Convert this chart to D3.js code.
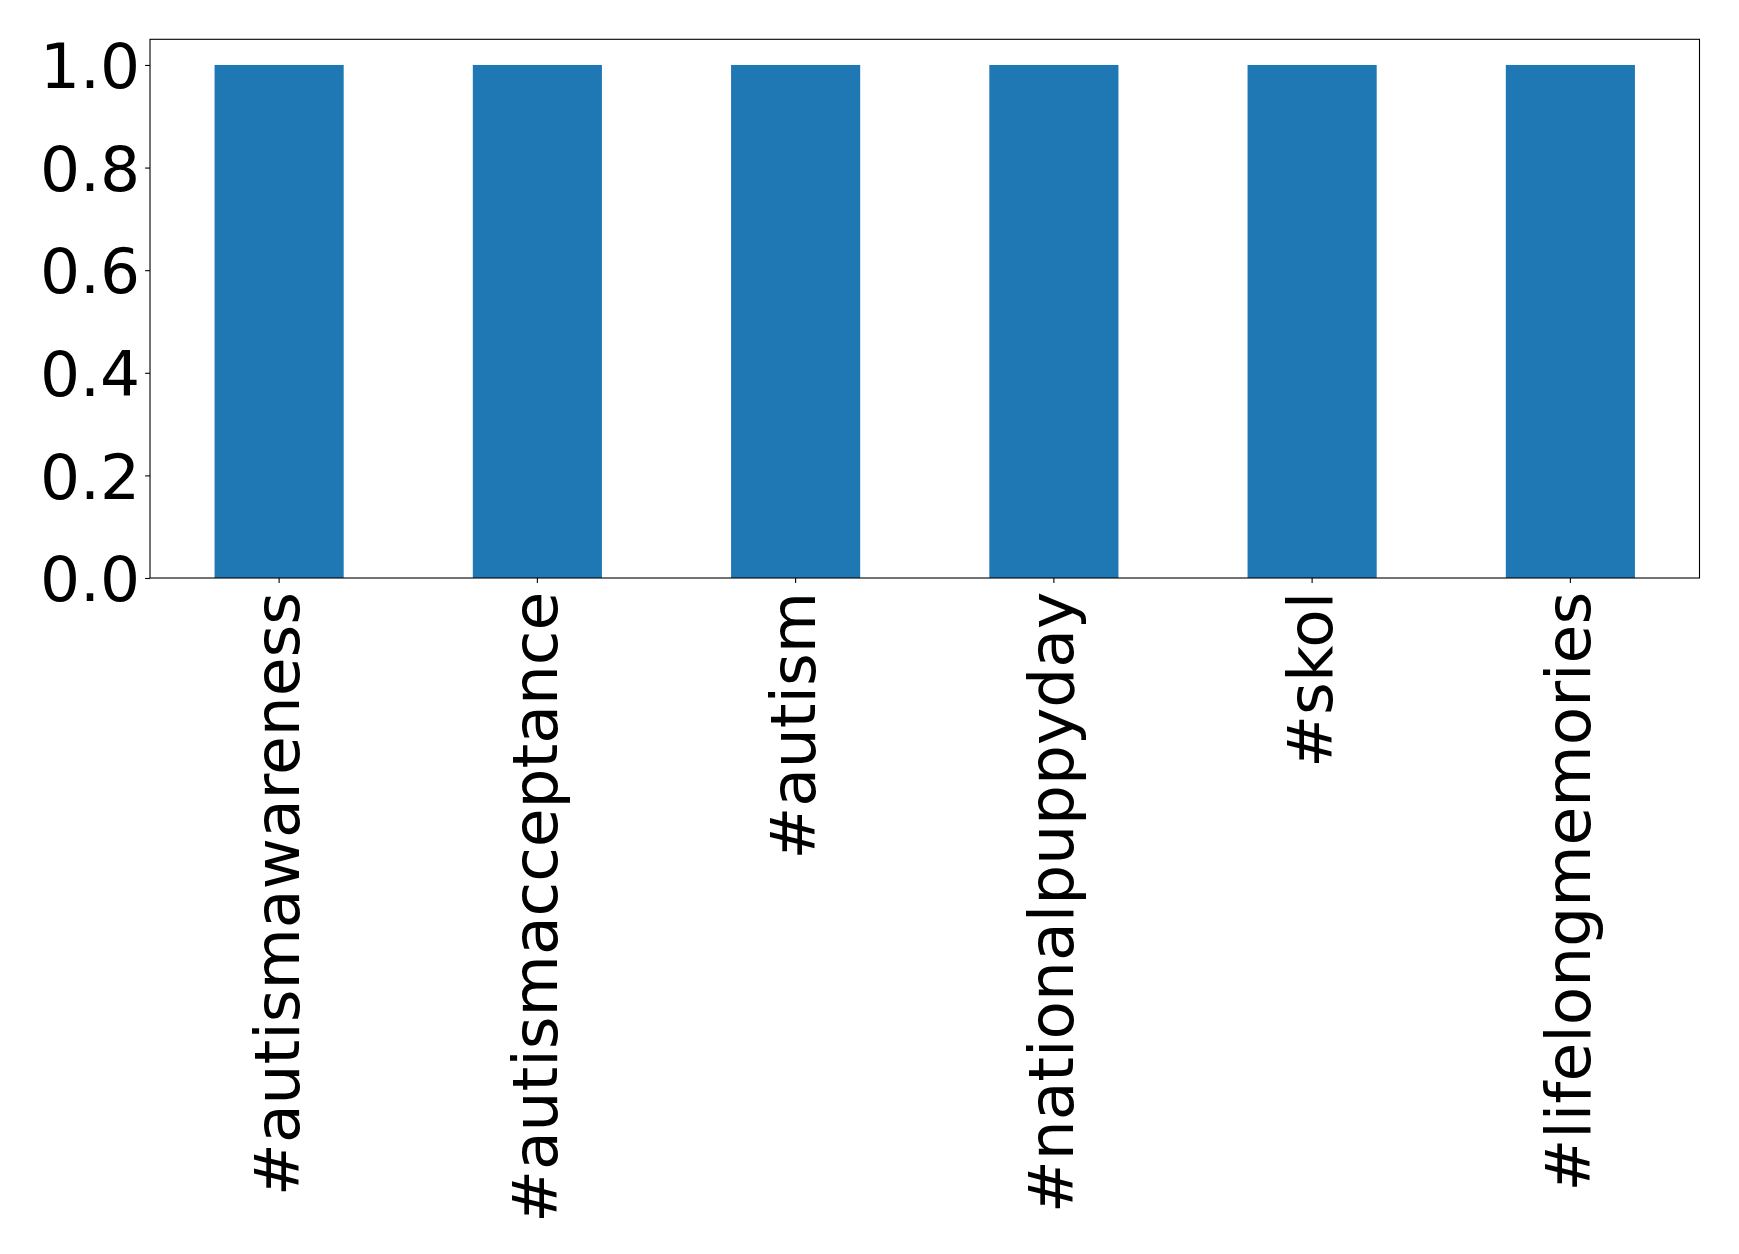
<!DOCTYPE html>
<html>
<head>
<meta charset="utf-8">
<script src="https://cdn.jsdelivr.net/npm/d3@7"></script>
<style>
  html, body { margin: 0; padding: 0; background: #ffffff; }
  svg { display: block; }
  text { font-family: "DejaVu Sans", sans-serif; fill: #000; }
</style>
</head>
<body>
<svg id="chart" width="1739" height="1254"></svg>
<script>
const categories = ["#autismawareness", "#autismacceptance", "#autism", "#nationalpuppyday", "#skol", "#lifelongmemories"];
const values = [1, 1, 1, 1, 1, 1];
const yTicks = [0.0, 0.2, 0.4, 0.6, 0.8, 1.0];

const W = 1739, H = 1254;
const margin = { left: 150, right: W - 1699.5, top: 39.3, bottom: H - 578 };
const fontSize = 63;
const tickLen = 4.9, tickPad = 4.9;

const svg = d3.select("#chart");
const g = svg.append("g").attr("transform", `translate(${margin.left},${margin.top})`);
const iw = W - margin.left - margin.right;
const ih = H - margin.top - margin.bottom;

const x = d3.scaleBand().domain(categories).range([0, iw]).paddingInner(0.5).paddingOuter(0.25);
const y = d3.scaleLinear().domain([0, 1.05]).range([ih, 0]);

g.selectAll("rect.bar").data(values).join("rect")
  .attr("class", "bar")
  .attr("x", (d, i) => x(categories[i]))
  .attr("width", x.bandwidth())
  .attr("y", d => y(d))
  .attr("height", d => y(0) - y(d))
  .attr("fill", "#1f77b4");

// Y axis
const yAxis = d3.axisLeft(y).tickValues(yTicks).tickFormat(d3.format(".1f")).tickSize(tickLen).tickPadding(tickPad);
const ya = g.append("g").call(yAxis);
ya.select(".domain").remove();
ya.selectAll(".tick line").attr("stroke", "#000").attr("stroke-width", 1.1);
ya.selectAll(".tick text").attr("font-size", fontSize).attr("font-family", "DejaVu Sans").attr("fill", "#000").attr("dy", "0.36em");

// X axis
const xAxis = d3.axisBottom(x).tickSize(tickLen).tickPadding(tickPad);
const xa = g.append("g").attr("transform", `translate(0,${ih})`).call(xAxis);
xa.select(".domain").remove();
xa.selectAll(".tick line").attr("stroke", "#000").attr("stroke-width", 1.1);
xa.selectAll(".tick text")
  .attr("font-size", fontSize)
  .attr("font-family", "DejaVu Sans")
  .attr("fill", "#000")
  .attr("text-anchor", "end")
  .attr("transform", "rotate(-90)")
  .attr("x", -(tickLen + tickPad + 4))
  .attr("y", 0)
  .attr("dy", "0.31em");

// Frame
g.append("rect").attr("x", 0).attr("y", 0).attr("width", iw).attr("height", ih)
  .attr("fill", "none").attr("stroke", "#000").attr("stroke-width", 1.1);
</script>
</body>
</html>
